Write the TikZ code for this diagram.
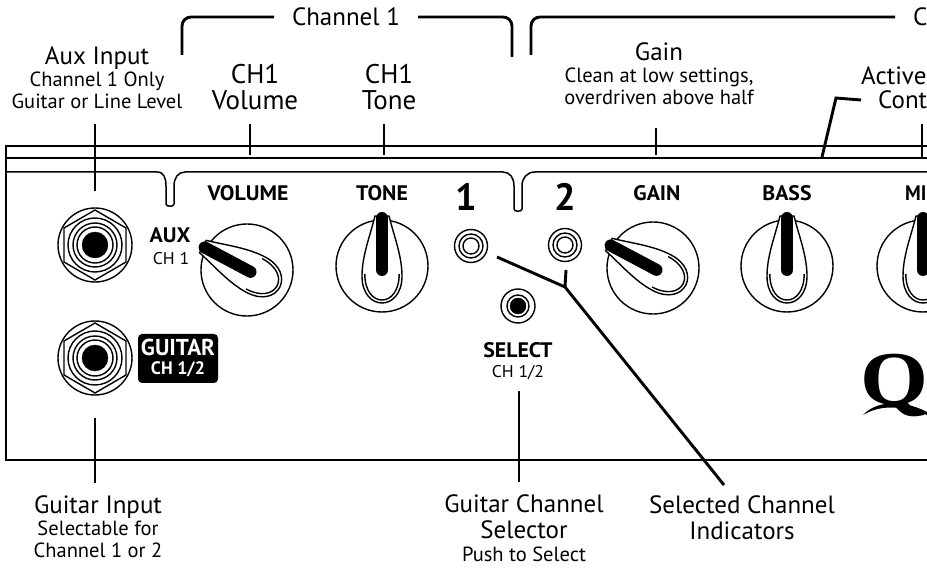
\documentclass[tikz,border=0pt]{standalone}
\usepackage{fontspec}
\setmainfont{PT Sans}
\newfontfamily\logofont{Liberation Serif}
\newcommand{\subtext}[1]{{\fontsize{20.5}{22}\selectfont #1}}
\newcommand{\jack}[2]{
\draw [thin line] (#1,#2) circle[radius=37];
\draw [thin line] (#1,#2-35) -- (#1+31,#2-17) -- (#1+31,#2+17) -- (#1,#2+35) -- (#1-31,#2+17) -- (#1-31,#2-17) -- cycle;
\draw [thin line] (#1,#2) circle[radius=27] (#1,#2) circle[radius=22] (#1,#2) circle[radius=18];
\filldraw (#1,#2) circle[radius=13];
}
\newcommand{\lamp}[2]{
\draw [thin line] (#1,#2) circle[radius=16.5] (#1,#2) circle[radius=12] (#1,#2) circle[radius=8];
}
\newcommand{\knob}[3]{
\begin{scope}[shift={(#1,#2)},rotate=#3]
\draw [thin line] (0,0) circle[radius=46];
\draw [thin line,fill=white] (-7,-50) .. controls (-12,-30) and (-20,-10) .. (-20,10) .. controls (-20,28) and (-10,37) .. (0,37) .. controls (10,37) and (20,28) .. (20,10) .. controls (20,-10) and (12,-30) .. (7,-50) -- cycle;
\draw [thin line] (-17.2,8) .. controls (-17.2,25) and (-9,34) .. (0,34) .. controls (9,34) and (17.2,25) .. (17.2,8);
\draw [line width=12pt,line cap=round] (0,-48) -- (0,4);
\end{scope}
}
\tikzset{
thin line/.style={line width=1.4pt},
panel line/.style={line width=1.5pt},
leader/.style={line width=2.9pt},
callout/.style={align=center,inner sep=0pt,font=\fontsize{25}{26}\selectfont},
top callout/.style={callout,anchor=south,outer ysep=15pt},
low callout/.style={callout,anchor=north,outer ysep=13pt},
bracket label/.style={callout,outer xsep=18pt},
face label/.style={inner sep=0pt,font=\fontsize{21}{24}\selectfont\bfseries,xscale=1.04},
face sub/.style={inner sep=0pt,font=\fontsize{17}{20}\selectfont,xscale=1.04},
bracket/.style={line width=2.9pt,rounded corners=9pt},
}
\begin{document}
\begin{tikzpicture}[x=1pt,y=-1pt]
\clip (0,0) rectangle (927,569);
\draw [panel line] (6,172) -- (157,172) .. controls (164,172) and (166,178) .. (166,186) -- (166,204) .. controls (166,207) and (174,207) .. (174,204) -- (174,186) .. controls (174,178) and (178,172) .. (185,172) -- (503,172) .. controls (510,172) and (514,178) .. (514,186) -- (514,209) .. controls (514,212) and (522,212) .. (522,209) -- (522,186) .. controls (522,178) and (527,172) .. (535,172) -- (927,172);
\draw [panel line] (6,158) -- (927,158);
\draw [line width=2.4pt] (927,146) -- (6,146) -- (6,460) -- (927,460);
\jack{95}{245}
\jack{95}{358}
\lamp{471}{246}
\lamp{565}{245}
\draw [thin line] (518,306) circle[radius=17] (518,306) circle[radius=11];
\filldraw (518,306) circle[radius=8];
\knob{247}{270}{62}
\knob{382}{266}{0}
\knob{653}{268}{62}
\knob{787}{266}{0}
\knob{923}{266}{0}
\node [face label] (volume) at (248,193) {VOLUME};
\node [face label] (tone) at (382,193) {TONE};
\node [inner sep=0pt,font=\fontsize{38}{38}\selectfont\bfseries] (one) at (466,197) {1};
\node [inner sep=0pt,font=\fontsize{38}{38}\selectfont\bfseries] (two) at (565,197) {2};
\node [face label] (gain) at (657,193) {GAIN};
\node [face label] (bass) at (787,193) {BASS};
\node [face label,anchor=west,xscale=.9] (mid) at (905,193) {MI};
\node [face label] (aux) at (170,235) {AUX};
\node [face sub] (auxch) at (171,259) {CH 1};
\node [fill=black,rounded corners=4pt,minimum width=80pt,minimum height=49pt,inner sep=0pt,text=white,align=center,font=\fontsize{23}{21}\selectfont\bfseries] (guitar) at (178,358.5) {GUITAR\\[-2pt]{\fontsize{18}{20}\selectfont CH 1/2}};
\node [face label] (select) at (518,350) {SELECT};
\node [face sub] (selectch) at (518,373) {CH 1/2};
\node [inner sep=0pt,anchor=west,font=\logofont\bfseries\fontsize{76}{76}\selectfont,xscale=1.15] (logo) at (860,386) {Q};
\fill (863,415) .. controls (875,402) and (900,398) .. (927,412) -- (927,415) .. controls (900,405) and (880,405) .. (863,415) -- cycle;
\node [top callout] (auxlabel) at (97,124) {Aux Input\\[-4pt]\subtext{Channel 1 Only}\\[-4pt]\subtext{Guitar or Line Level}};
\node [top callout,outer ysep=14pt,font=\fontsize{27}{26}\selectfont] (volumelabel) at (255,124) {CH1\\Volume};
\node [top callout,outer ysep=14pt,font=\fontsize{27}{26}\selectfont] (tonelabel) at (389,124) {CH1\\Tone};
\node [top callout,outer ysep=23pt] (gainlabel) at (659,128) {Gain\\[-4pt]\subtext{Clean at low settings,}\\[-4pt]\subtext{overdriven above half}};
\node [callout,anchor=west] (activelabel) at (861,76) {Active};
\node [callout,anchor=west] (controllabel) at (878,100) {Cont};
\node [bracket label] (chonelabel) at (346,17) {Channel 1};
\node [bracket label,anchor=west] (chtwolabel) at (895,17) {C};
\node [low callout] (guitarlabel) at (98,483) {Guitar Input\\[-4pt]\subtext{Selectable for}\\[-4pt]\subtext{Channel 1 or 2}};
\node [low callout] (selectlabel) at (524,482) {Guitar Channel\\Selector\\[-3pt]\subtext{Push to Select}};
\node [low callout] (lamplabel) at (742,483) {Selected Channel\\Indicators};
\coordinate (auxend) at (95,191);
\coordinate (guitarend) at (95,418);
\coordinate (selectend) at (519,391);
\coordinate (volumeend) at (250,155);
\coordinate (toneend) at (384,155);
\coordinate (gainend) at (656,155);
\coordinate (midstart) at (922,124);
\coordinate (midend) at (922,158);
\coordinate (activeturn) at (836,98);
\coordinate (activeend) at (822,157);
\coordinate (lampone) at (497,257);
\coordinate (lamptwo) at (566,270);
\coordinate (lampjoin) at (565,287);
\coordinate (lampend) at (724,485);
\draw [leader] (auxlabel.south -| auxend) -- (auxend);
\draw [leader] (guitarlabel.north -| guitarend) -- (guitarend);
\draw [leader] (selectlabel.north -| selectend) -- (selectend);
\draw [leader] (volumelabel.south -| volumeend) -- (volumeend);
\draw [leader] (tonelabel.south -| toneend) -- (toneend);
\draw [leader] (gainlabel.south -| gainend) -- (gainend);
\draw [leader] (midstart) -- (midend);
\draw [leader] (activelabel.west |- controllabel.west) -- (activeturn) -- (activeend);
\draw [leader] (lampone) -- (lampjoin) -- (lampend);
\draw [leader] (lamptwo) -- (lampjoin);
\draw [bracket] (182,55) |- (chonelabel.west);
\draw [bracket] (chonelabel.east) -| (512,57);
\draw [bracket] (531,55) |- (chtwolabel.west);
\end{tikzpicture}
\end{document}
